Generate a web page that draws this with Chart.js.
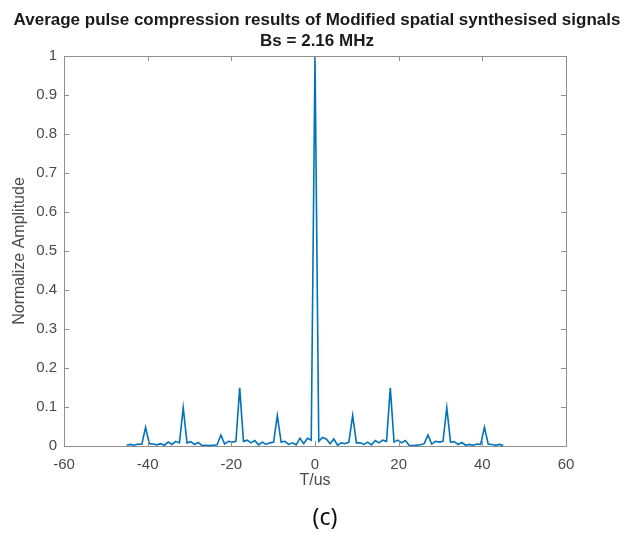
<!DOCTYPE html>
<html>
<head>
<meta charset="utf-8">
<script src="https://cdn.jsdelivr.net/npm/chart.js@4/dist/chart.umd.min.js"></script>
<style>
  html, body { margin: 0; padding: 0; background: #fff; }
  #wrap { position: relative; width: 634px; height: 538px; }
  #caption { position: absolute; left: 0; width: 650px; top: 500px; text-align: center;
             font-family: "Noto Sans", "Open Sans", sans-serif; font-size: 23px; color: #111; }
</style>
</head>
<body>
<div id="wrap">
  <canvas id="c" width="634" height="538"></canvas>
  <div id="caption">(c)</div>
</div>
<script>
const titleLines = ["Average pulse compression results of Modified spatial synthesised signals", "Bs = 2.16 MHz"];
const xLabel = "T/us";
const yLabel = "Normalize Amplitude";
const xTicks = [-60, -40, -20, 0, 20, 40, 60];
const yTicks = [0, 0.1, 0.2, 0.3, 0.4, 0.5, 0.6, 0.7, 0.8, 0.9, 1];

const timeUs = [
  -45, -44.1, -43.2, -42.3, -41.4, -40.5, -39.6, -38.7, -37.8, -36.9,
  -36, -35.1, -34.2, -33.3, -32.4, -31.5, -30.6, -29.7, -28.8, -27.9,
  -27, -26.1, -25.2, -24.3, -23.4, -22.5, -21.6, -20.7, -19.8, -18.9,
  -18, -17.1, -16.2, -15.3, -14.4, -13.5, -12.6, -11.7, -10.8, -9.9,
  -9, -8.1, -7.2, -6.3, -5.4, -4.5, -3.6, -2.7, -1.8, -0.9,
  0, 0.9, 1.8, 2.7, 3.6, 4.5, 5.4, 6.3, 7.2, 8.1,
  9, 9.9, 10.8, 11.7, 12.6, 13.5, 14.4, 15.3, 16.2, 17.1,
  18, 18.9, 19.8, 20.7, 21.6, 22.5, 23.4, 24.3, 25.2, 26.1,
  27, 27.9, 28.8, 29.7, 30.6, 31.5, 32.4, 33.3, 34.2, 35.1,
  36, 36.9, 37.8, 38.7, 39.6, 40.5, 41.4, 42.3, 43.2, 44.1,
  45
];
const amplitude = [
  0.002, 0.004, 0.002, 0.005, 0.004, 0.048, 0.006, 0.005, 0.003, 0.006,
  0.002, 0.010, 0.004, 0.012, 0.008, 0.098, 0.008, 0.011, 0.004, 0.009,
  0.001, 0.002, 0.001, 0.002, 0.003, 0.028, 0.005, 0.012, 0.010, 0.012,
  0.149, 0.012, 0.015, 0.008, 0.014, 0.003, 0.010, 0.004, 0.008, 0.010,
  0.078, 0.010, 0.012, 0.004, 0.008, 0.003, 0.020, 0.006, 0.020, 0.015,
  1.000, 0.012, 0.022, 0.018, 0.006, 0.018, 0.002, 0.008, 0.006, 0.010,
  0.078, 0.008, 0.008, 0.004, 0.010, 0.003, 0.014, 0.008, 0.015, 0.012,
  0.149, 0.010, 0.015, 0.008, 0.014, 0.002, 0.001, 0.002, 0.003, 0.006,
  0.028, 0.005, 0.012, 0.010, 0.012, 0.098, 0.010, 0.011, 0.004, 0.009,
  0.002, 0.004, 0.002, 0.005, 0.004, 0.048, 0.005, 0.004, 0.002, 0.004,
  0.001
];

const AXIS_COLOR = '#8f8f8f';
const TEXT_COLOR = '#4a4a4a';
const FONT = '"Liberation Sans", Arial, Helvetica, sans-serif';

const boxPlugin = {
  id: 'matlabBox',
  afterDraw(chart) {
    const {ctx, chartArea: a, scales: {x, y}} = chart;
    const tl = 5;
    ctx.save();
    ctx.strokeStyle = AXIS_COLOR;
    ctx.lineWidth = 1;
    ctx.beginPath();
    ctx.rect(Math.round(a.left) + 0.5, Math.round(a.top) + 0.5,
             Math.round(a.right - a.left), Math.round(a.bottom - a.top));
    xTicks.forEach(v => {
      const px = Math.round(x.getPixelForValue(v)) + 0.5;
      ctx.moveTo(px, a.bottom); ctx.lineTo(px, a.bottom - tl);
      ctx.moveTo(px, a.top); ctx.lineTo(px, a.top + tl);
    });
    yTicks.forEach(v => {
      const py = Math.round(y.getPixelForValue(v)) + 0.5;
      ctx.moveTo(a.left, py); ctx.lineTo(a.left + tl, py);
      ctx.moveTo(a.right, py); ctx.lineTo(a.right - tl, py);
    });
    ctx.stroke();
    ctx.restore();
  }
};

new Chart(document.getElementById('c'), {
  type: 'line',
  data: {
    datasets: [{
      data: timeUs.map((t, i) => ({x: t, y: amplitude[i]})),
      borderColor: '#0072BD',
      borderWidth: 1.6,
      pointRadius: 0,
      tension: 0,
      fill: false
    }]
  },
  options: {
    responsive: false,
    animation: false,
    layout: { padding: { left: 0, right: 0, top: 0, bottom: 42 } },
    plugins: {
      legend: { display: false },
      tooltip: { enabled: false },
      title: {
        display: true,
        text: titleLines,
        color: '#1a1a1a',
        font: { family: FONT, size: 17, weight: 'bold', lineHeight: 1.235 },
        padding: { top: 9.5, bottom: 4.5 }
      }
    },
    scales: {
      x: {
        type: 'linear',
        min: -60, max: 60,
        afterBuildTicks: s => { s.ticks = xTicks.map(v => ({value: v})); },
        afterFit: s => { s.height = 50; },
        grid: { display: false, drawTicks: false },
        border: { display: false },
        ticks: { color: TEXT_COLOR, font: { family: FONT, size: 15 }, padding: 10, maxRotation: 0,
                 callback: v => String(Math.round(v * 10) / 10) },
        title: { display: true, text: xLabel, color: TEXT_COLOR,
                 font: { family: FONT, size: 16 }, padding: { top: 0, bottom: 6 } }
      },
      y: {
        type: 'linear',
        min: 0, max: 1,
        afterBuildTicks: s => { s.ticks = yTicks.map(v => ({value: v})); },
        afterFit: s => { s.width = 64; },
        grid: { display: false, drawTicks: false },
        border: { display: false },
        ticks: { color: TEXT_COLOR, font: { family: FONT, size: 15 }, padding: 7,
                 callback: v => String(Math.round(v * 10) / 10) },
        title: { display: true, text: yLabel, color: TEXT_COLOR,
                 font: { family: FONT, size: 16 }, padding: { top: 10, bottom: 0 } }
      },
      yRightSpace: {
        type: 'linear',
        position: 'right',
        min: 0, max: 1,
        afterFit: s => { s.width = 68; },
        grid: { display: false, drawTicks: false },
        border: { display: false },
        ticks: { display: false }
      }
    }
  },
  plugins: [boxPlugin]
});
</script>
</body>
</html>
